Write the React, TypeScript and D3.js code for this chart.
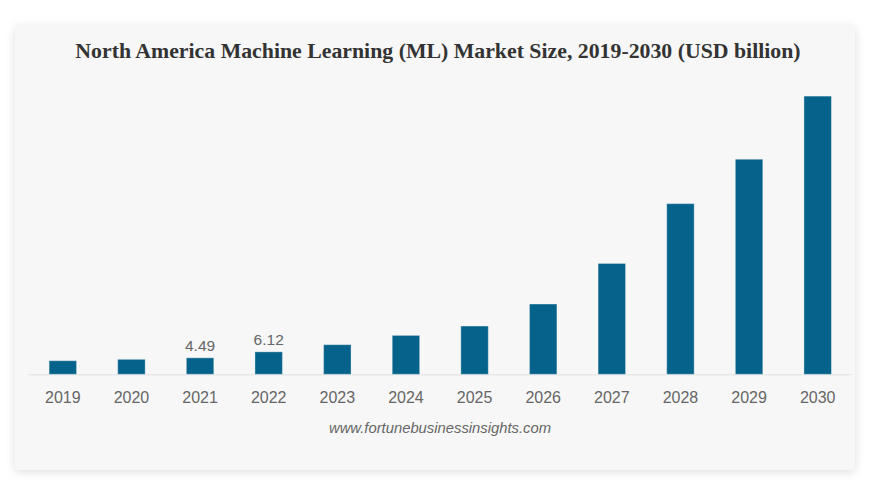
import React from "react";
import * as d3 from "d3";

const years: string[] = ["2019", "2020", "2021", "2022", "2023", "2024", "2025", "2026", "2027", "2028", "2029", "2030"];
const values: number[] = [3.7, 4.08, 4.49, 6.12, 8.07, 10.6, 13.15, 19.15, 30.2, 46.5, 58.6, 75.8];
const labeledYears: string[] = ["2021", "2022"];
const title = "North America Machine Learning (ML) Market Size, 2019-2030 (USD billion)";
const source = "www.fortunebusinessinsights.com";

const W = 876;
const H = 493;

export default function App() {
  const x = d3.scaleBand<string>().domain(years).range([28.5, 852]).paddingInner(0.6).paddingOuter(0.3);
  const y = d3.scaleLinear().domain([0, 1]).range([374.3, 374.3 - 3.67]);
  const base = y(0);
  return (
    <svg width={W} height={H} style={{ position: "fixed", left: 0, top: 0, background: "#fff" }}>
      <defs>
        <filter id="sh" x="-10%" y="-10%" width="120%" height="120%">
          <feDropShadow dx="0" dy="2" stdDeviation="5" floodColor="#000" floodOpacity="0.13" />
        </filter>
      </defs>
      <rect x={15} y={25} width={840} height={445} rx={5} fill="#f7f7f7" filter="url(#sh)" />
      <text x={438} y={58} textAnchor="middle" fontFamily="'Liberation Serif', 'Times New Roman', serif" fontWeight="bold" fontSize={21.8} fill="#333">
        {title}
      </text>
      <line x1={28.5} x2={852} y1={base + 0.5} y2={base + 0.5} stroke="#e0e0e0" strokeWidth={1} />
      {years.map((yr, i) => (
        <rect key={yr} x={x(yr)!} y={y(values[i])} width={x.bandwidth()} height={base - y(values[i])} fill="#05628a" stroke="#ffffff" strokeOpacity={0.35} strokeWidth={1} />
      ))}
      {years.map((yr, i) =>
        labeledYears.includes(yr) ? (
          <text key={"l" + yr} x={x(yr)! + x.bandwidth() / 2} y={y(values[i]) - 7} textAnchor="middle" fontFamily="'Liberation Sans', Arial, sans-serif" fontSize={15.5} fill="#666">
            {values[i].toFixed(2)}
          </text>
        ) : null
      )}
      {years.map((yr) => (
        <text key={"t" + yr} x={x(yr)! + x.bandwidth() / 2} y={402.5} textAnchor="middle" fontFamily="'Liberation Sans', Arial, sans-serif" fontSize={16} fill="#666">
          {yr}
        </text>
      ))}
      <text x={440} y={433} textAnchor="middle" fontFamily="'Liberation Sans', Arial, sans-serif" fontStyle="italic" fontSize={14.8} fill="#666">
        {source}
      </text>
    </svg>
  );
}
